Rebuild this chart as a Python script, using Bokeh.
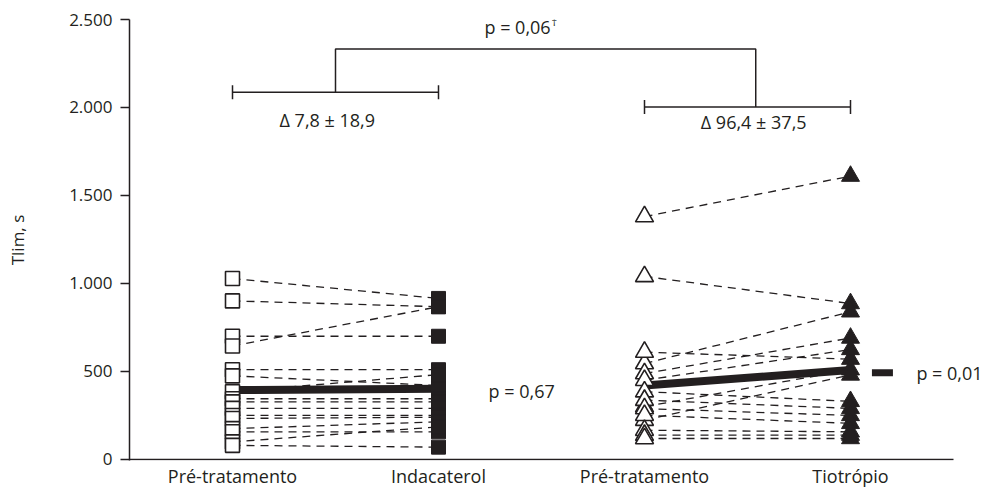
from bokeh.plotting import figure
from bokeh.models import Range1d, FixedTicker, Label
from bokeh.embed import file_html
from bokeh.resources import INLINE

# ---------------- data ----------------
categories = ["Pré-tratamento", "Indacaterol", "Pré-tratamento", "Tiotrópio"]
cat_x = [1, 2, 3, 4]

ind_pre = [1028, 901, 700, 645, 510, 475, 385, 345, 327, 290, 250, 233, 175, 157, 100, 80]
ind_post = [915, 868, 700, 868, 510, 420, 482, 345, 327, 290, 250, 240, 214, 157, 185, 70]

tio_pre = [1380, 1040, 545, 610, 488, 450, 300, 385, 337, 223, 289, 251, 166, 138, 119]
tio_post = [1610, 886, 839, 570, 690, 625, 510, 330, 290, 480, 250, 205, 157, 138, 119]

ind_mean = [394, 402]
tio_mean = [420, 508]
tio_mean_marker = 492

y_ticks = [0, 500, 1000, 1500, 2000, 2500]
y_tick_labels = ["0", "500", "1.000", "1.500", "2.000", "2.500"]

bracket_levels = [2087, 2003, 2332]   # left pair, right pair, top connector
bracket_tick = 40

texts = {
    "p_top": "p = 0,06",
    "dagger": "\u2020",
    "delta_ind": "\u0394 7,8 \u00b1 18,9",
    "delta_tio": "\u0394 96,4 \u00b1 37,5",
    "p_ind": "p = 0,67",
    "p_tio": "p = 0,01",
}

INK = "#231f20"
FONT = "Open Sans"
FS = "18px"

PX_PER_UNIT = 206
FRAME_W = 857
X_START = 0.5
X_AXIS_END = 4.5

p = figure(frame_width=FRAME_W, frame_height=441,
           x_range=Range1d(X_START, X_START + FRAME_W / PX_PER_UNIT),
           y_range=Range1d(-6, 2500),
           output_backend="svg", toolbar_location=None,
           min_border_left=129, min_border_top=19, min_border_right=0,
           min_border_bottom=36)
p.outline_line_color = None
p.xgrid.visible = False
p.ygrid.visible = False
p.background_fill_color = "white"

# axes
p.yaxis.ticker = FixedTicker(ticks=y_ticks)
p.yaxis.major_label_overrides = {t: l for t, l in zip(y_ticks, y_tick_labels)}
p.xaxis.ticker = FixedTicker(ticks=cat_x)
p.xaxis.major_label_overrides = {t: l for t, l in zip(cat_x, categories)}
for ax in (p.xaxis[0], p.yaxis[0]):
    ax.axis_line_color = INK
    ax.axis_line_width = 1.5
    ax.major_tick_line_color = INK
    ax.major_tick_line_width = 1.5
    ax.minor_tick_line_color = None
    ax.major_label_text_font = FONT
    ax.major_label_text_color = INK
p.yaxis.major_label_text_font_size = "17px"
p.xaxis.major_label_text_font_size = FS
p.yaxis.major_tick_out = 9
p.yaxis.major_tick_in = 0
p.yaxis.major_label_standoff = 8
p.xaxis.major_tick_line_color = None
p.xaxis.axis_line_color = None
p.xaxis.major_tick_out = 0
p.xaxis.major_tick_in = 0
p.xaxis.major_label_standoff = 3
p.yaxis.axis_label = "Tlim, s"
p.yaxis.axis_label_text_font = FONT
p.yaxis.axis_label_text_font_size = "17px"
p.yaxis.axis_label_text_font_style = "normal"
p.yaxis.axis_label_text_color = INK
p.yaxis.axis_label_standoff = 37

# x axis baseline (drawn as a line so the frame can extend for the right-hand text)
p.line(x=[X_START, X_AXIS_END], y=[0, 0], line_color=INK, line_width=1.5)

# individual dashed lines
n1 = len(ind_pre)
p.segment(x0=[cat_x[0]] * n1, y0=ind_pre, x1=[cat_x[1]] * n1, y1=ind_post,
          line_color=INK, line_width=1.3, line_dash="8 6")
n2 = len(tio_pre)
p.segment(x0=[cat_x[2]] * n2, y0=tio_pre, x1=[cat_x[3]] * n2, y1=tio_post,
          line_color=INK, line_width=1.3, line_dash="8 6")

# mean lines
p.line(x=cat_x[0:2], y=ind_mean, line_color=INK, line_width=8)
p.line(x=cat_x[2:4], y=tio_mean, line_color=INK, line_width=8)

# markers
p.scatter(x=[cat_x[0]] * n1, y=ind_pre, marker="square", size=14,
          fill_color="white", line_color=INK, line_width=1.6)
p.scatter(x=[cat_x[1]] * n1, y=ind_post, marker="square", size=14,
          fill_color=INK, line_color=INK, line_width=1)
p.scatter(x=[cat_x[2]] * n2, y=tio_pre, marker="triangle", size=18,
          fill_color="white", line_color=INK, line_width=1.6)
p.scatter(x=[cat_x[3]] * n2, y=tio_post, marker="triangle", size=18,
          fill_color=INK, line_color=INK, line_width=1)

# mean marker right of Tiotropio
p.rect(x=[cat_x[3] + 0.155], y=[tio_mean_marker], width=21, height=7,
       width_units="screen", height_units="screen",
       fill_color=INK, line_color=None)

# brackets
lv, rv, top = bracket_levels
for (xa, xb, yy) in ((cat_x[0], cat_x[1], lv), (cat_x[2], cat_x[3], rv)):
    p.line(x=[xa, xb], y=[yy, yy], line_color=INK, line_width=1.5)
    p.segment(x0=[xa, xb], y0=[yy - bracket_tick] * 2, x1=[xa, xb],
              y1=[yy + bracket_tick] * 2, line_color=INK, line_width=1.5)
xl = (cat_x[0] + cat_x[1]) / 2
xr = (cat_x[2] + cat_x[3]) / 2 + 0.04
p.line(x=[xl, xl, xr, xr], y=[lv, top, top, rv], line_color=INK, line_width=1.5)


def add_text(x, y, t, align="center", size=FS):
    p.add_layout(Label(x=x, y=y, text=t, text_font=FONT, text_font_size=size,
                       text_color=INK, text_align=align, text_baseline="middle"))


add_text(2.223, 2458, texts["p_top"], "left")
add_text(2.548, 2490, texts["dagger"], "left", "11px")
add_text(1.46, 1928, texts["delta_ind"])
add_text(3.53, 1916, texts["delta_tio"])
add_text(2.243, 389, texts["p_ind"], "left")
add_text(4.32, tio_mean_marker, texts["p_tio"], "left")

open("out.html", "w").write(file_html(p, INLINE))
